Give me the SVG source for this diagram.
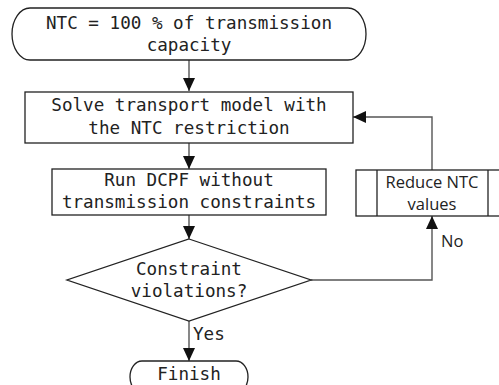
<svg xmlns="http://www.w3.org/2000/svg" width="499" height="385" viewBox="0 0 499 385">
  <defs>
    <marker id="arrow" viewBox="0 0 13 12" refX="13" refY="6" markerWidth="13" markerHeight="12" markerUnits="userSpaceOnUse" orient="auto">
      <path d="M0,0 L13,6 L0,12 Z" fill="#111"/>
    </marker>
  </defs>
  <style>
    .shape { fill: #fff; stroke: #222; stroke-width: 1.3; }
    .conn { fill: none; stroke: #555; stroke-width: 1.4; }
    .mono { font-family: "DejaVu Sans Mono", "Liberation Mono", monospace; font-size: 17.6px; fill: #222; text-anchor: middle; }
    .sans { font-family: "Open Sans", "Noto Sans", "Liberation Sans", sans-serif; font-size: 16.5px; fill: #222; }
  </style>
  <rect width="499" height="385" fill="#fff"/>

  <g id="connectors">
    <line class="conn" x1="189" y1="60" x2="189" y2="91" marker-end="url(#arrow)"/>
    <line class="conn" x1="189" y1="143" x2="189" y2="169" marker-end="url(#arrow)"/>
    <line class="conn" x1="189" y1="215" x2="189" y2="239" marker-end="url(#arrow)"/>
    <line class="conn" x1="189" y1="321" x2="189" y2="361" marker-end="url(#arrow)"/>
    <polyline class="conn" points="311,280 432,280 432,216" marker-end="url(#arrow)"/>
    <polyline class="conn" points="432,170 432,117 353,117" marker-end="url(#arrow)"/>
    <text class="mono" x="193" y="340" style="text-anchor:start">Yes</text>
    <text class="sans" x="441" y="247">No</text>
  </g>

  <g id="start">
    <rect class="shape" x="12" y="8" width="354" height="52" rx="18" ry="26"/>
    <text class="mono" x="189" y="29">NTC = 100 % of transmission</text>
    <text class="mono" x="189" y="51">capacity</text>
  </g>

  <g id="solve">
    <rect class="shape" x="25" y="92" width="328" height="51"/>
    <text class="mono" x="189" y="111">Solve transport model with</text>
    <text class="mono" x="189" y="134">the NTC restriction</text>
  </g>

  <g id="dcpf">
    <rect class="shape" x="52" y="169" width="274" height="46"/>
    <text class="mono" x="189" y="186">Run DCPF without</text>
    <text class="mono" x="189" y="208">transmission constraints</text>
  </g>

  <g id="check">
    <polygon class="shape" points="189,239 311,280 189,321 67,280"/>
    <text class="mono" x="189" y="275">Constraint</text>
    <text class="mono" x="189" y="297">violations?</text>
  </g>

  <g id="reduce">
    <rect class="shape" x="356" y="170" width="153" height="46"/>
    <line class="shape" x1="377" y1="170" x2="377" y2="216"/>
    <line class="shape" x1="488" y1="170" x2="488" y2="216"/>
    <text class="sans" x="432" y="188" text-anchor="middle">Reduce NTC</text>
    <text class="sans" x="432" y="210" text-anchor="middle">values</text>
  </g>

  <g id="finish">
    <rect class="shape" x="130" y="361" width="118" height="32" rx="12" ry="16"/>
    <text class="mono" x="189" y="380">Finish</text>
  </g>
</svg>
